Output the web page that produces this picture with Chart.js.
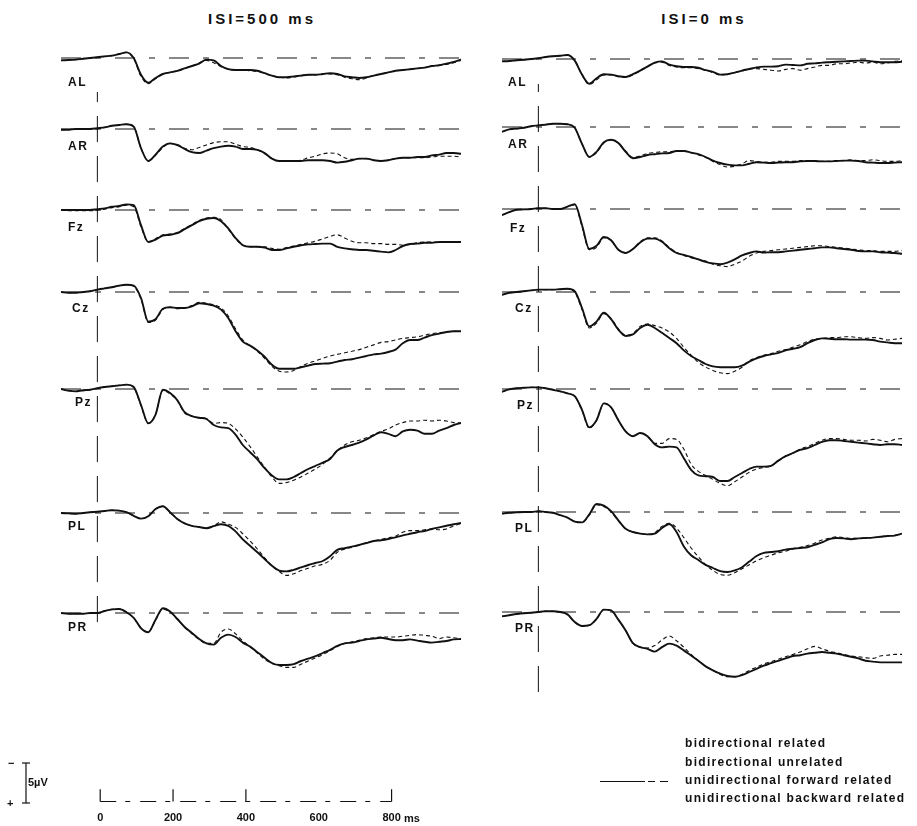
<!DOCTYPE html>
<html>
<head>
<meta charset="utf-8">
<script src="https://cdn.jsdelivr.net/npm/chart.js@4.4.0/dist/chart.umd.min.js"></script>
<style>
  body{margin:0;width:917px;height:826px;background:#fff;position:relative;overflow:hidden;
       font-family:"Liberation Sans",Arial,sans-serif;color:#111}
  canvas{position:absolute}
  .txt{position:absolute;white-space:nowrap;line-height:1}
  .title{font-weight:bold;font-size:15px;letter-spacing:3px;transform:translate(-50%,-50%)}
  .ch{font-weight:bold;font-size:12px;letter-spacing:1.5px;transform:translateY(-50%)}
  .leg{font-weight:bold;font-size:12px;letter-spacing:1.3px;transform:translateY(-50%)}
  .small{font-weight:bold;font-size:11px;transform:translateY(-50%)}
</style>
</head>
<body>
<script>
// time points (ms), shared by every trace
const times = [-100,-80,-60,-40,-20, 0,20,40,60,80, 100,120,140,160,180, 200,220,240,260,280,
  300,320,340,360,380, 400,420,440,460,480, 500,520,540,560,580, 600,620,640,660,680,
  700,720,740,760,780, 800,820,840,860,880, 900,920,940,960,980, 1000];
const timeTicks = [0,200,400,600,800];
const channels = ["AL","AR","Fz","Cz","Pz","PL","PR"];
const conditions = ["bidirectional related","bidirectional unrelated","unidirectional forward related","unidirectional backward related"];
const scaleBarUV = 5;

// ISI = 500 ms  (µV, negative up). bidir = solid, fwd = dashed
const isi500_AL_bidir = [0.3,0.25,0.2,0.1,0, -0.1,-0.2,-0.3,-0.5,-0.7, 0,2.1,3.1,2.5,2.0, 1.8,1.6,1.3,1.0,0.7,
  0.2,0.3,1.0,1.4,1.5, 1.5,1.5,1.6,1.9,2.2, 2.4,2.4,2.3,2.2,2.1, 2.1,2.0,1.9,2.0,2.3,
  2.4,2.5,2.4,2.2,2.0, 1.8,1.6,1.5,1.4,1.3, 1.2,1.0,0.9,0.7,0.5, 0.2];
const isi500_AL_fwd = [0.3,0.25,0.2,0.1,0, -0.1,-0.2,-0.3,-0.5,-0.7, 0.1,2.3,3.2,2.6,2.0, 1.8,1.6,1.3,1.0,0.6,
  0.3,0.6,1.1,1.4,1.5, 1.5,1.6,1.7,1.9,2.2, 2.4,2.5,2.4,2.2,2.1, 2.1,2.0,2.0,2.1,2.4,
  2.6,2.7,2.5,2.2,2.0, 1.8,1.6,1.5,1.4,1.3, 1.2,1.0,0.9,0.8,0.6, 0.3];

const isi500_AR_bidir = [0.1,0.1,0,0,0, -0.1,-0.2,-0.4,-0.5,-0.6, -0.3,2.4,4.0,3.2,2.2, 1.8,2.0,2.5,2.9,3.0,
  2.7,2.4,2.2,2.1,2.2, 2.5,2.5,2.6,3.0,3.7, 4.0,4.0,4.0,4.0,3.9, 3.9,3.9,4.0,4.2,4.1,
  3.9,3.7,3.7,3.9,4.0, 3.9,3.7,3.6,3.6,3.5, 3.5,3.3,3.2,3.0,3.0, 3.1];
const isi500_AR_fwd = [0.1,0.1,0,0,0, -0.1,-0.2,-0.4,-0.5,-0.6, -0.3,2.4,4.0,3.3,2.3, 1.8,2.0,2.4,2.6,2.3,
  2.0,1.7,1.6,1.6,1.9, 2.2,2.3,2.6,3.1,3.7, 4.0,4.0,4.0,3.9,3.6, 3.4,3.1,3.0,3.1,3.6,
  3.8,3.7,3.7,3.9,4.0, 3.9,3.7,3.6,3.6,3.6, 3.6,3.5,3.4,3.4,3.4, 3.5];

const isi500_Fz_bidir = [0,0,0,0,0, -0.1,-0.2,-0.4,-0.5,-0.7, -0.6,1.9,4.0,3.7,3.2, 3.1,2.9,2.4,1.9,1.4,
  1.1,1.0,1.4,2.3,3.5, 4.4,4.6,4.6,4.7,5.0, 5.0,4.8,4.6,4.4,4.3, 4.25,4.2,4.2,4.6,4.8,
  4.9,5.0,5.0,5.1,5.2, 5.3,5.0,4.5,4.25,4.2, 4.1,4.1,4.0,4.0,4.0, 4.0];
const isi500_Fz_fwd = [0,0.1,0.1,0.1,0.1, 0,-0.1,-0.3,-0.4,-0.6, -0.4,2.1,4.0,3.6,3.1, 3.0,2.8,2.3,1.8,1.3,
  1.0,0.9,1.2,2.4,3.6, 4.4,4.6,4.6,4.6,4.8, 4.9,4.7,4.5,4.3,4.1, 3.9,3.6,3.3,3.1,3.5,
  3.9,4.1,4.1,4.2,4.2, 4.3,4.3,4.4,4.3,4.1, 4.0,4.0,4.0,4.0,4.0, 4.0];

const isi500_Cz_bidir = [0,0.1,0.1,0,-0.1, -0.3,-0.45,-0.6,-0.8,-0.9, -0.8,0.75,3.7,3.4,2.1, 1.9,2.0,2.0,1.8,1.4,
  1.5,1.7,2.2,3.25,4.9, 6.2,6.7,7.3,8.1,9.1, 9.6,9.6,9.6,9.4,9.2, 9.0,8.95,8.9,8.7,8.5,
  8.4,8.2,8.0,7.8,7.7, 7.5,7.2,6.4,6.0,6.0, 5.7,5.4,5.2,5.0,4.9, 4.9];
const isi500_Cz_fwd = [0,0.1,0.1,0,-0.1, -0.3,-0.45,-0.6,-0.8,-0.9, -0.7,0.9,3.8,3.5,2.2, 1.9,2.1,2.0,1.7,1.3,
  1.4,1.6,2.0,3.0,4.6, 6.0,6.7,7.4,8.3,9.3, 9.9,10.0,9.8,9.3,8.9, 8.6,8.3,8.0,7.8,7.6,
  7.4,7.2,6.9,6.6,6.3, 6.2,6.0,5.8,5.7,5.6, 5.4,5.2,5.1,5.0,4.9, 4.9];

const isi500_Pz_bidir = [0,0.2,0.3,0.15,0.1, -0.1,-0.25,-0.35,-0.45,-0.55, -0.25,2.0,4.3,3.2,0.1, 0.5,1.4,2.9,3.4,3.6,
  3.75,4.5,4.8,4.9,5.7, 7.0,7.9,8.8,9.9,10.8, 11.3,11.3,11.0,10.5,10.0, 9.6,9.2,8.75,7.7,7.25,
  7.0,6.7,6.3,5.8,5.4, 5.6,5.9,5.3,5.1,5.2, 5.6,5.6,5.2,4.9,4.5, 4.25];
const isi500_Pz_fwd = [0,0.2,0.3,0.2,0.1, -0.1,-0.25,-0.35,-0.45,-0.55, -0.2,2.1,4.3,3.2,0.2, 0.6,1.5,3.0,3.4,3.6,
  3.7,4.3,4.2,4.3,5.0, 6.0,7.2,8.5,9.8,11.0, 11.8,11.7,11.4,11.0,10.5, 10.0,9.4,8.6,7.7,7.0,
  6.6,6.4,6.1,5.7,5.3, 5.0,4.5,4.2,4.0,4.0, 3.9,4.0,3.9,4.0,4.2, 4.25];

const isi500_PL_bidir = [0,0.05,0.1,0,-0.1, -0.15,-0.25,-0.35,-0.3,-0.1, 0.35,0.7,0.4,-0.5,-0.85, -0.1,0.75,1.3,1.6,1.75,
  1.9,1.65,1.4,1.6,2.3, 3.3,4.1,4.9,5.75,6.6, 7.2,7.3,7.1,6.8,6.5, 6.25,6.0,5.4,4.6,4.4,
  4.2,4.0,3.75,3.5,3.4, 3.25,3.05,2.8,2.6,2.4, 2.25,2.0,1.8,1.6,1.4, 1.25];
const isi500_PL_fwd = [0,0.05,0.1,0,-0.1, -0.15,-0.25,-0.35,-0.3,-0.1, 0.35,0.7,0.4,-0.5,-0.85, -0.1,0.75,1.3,1.6,1.75,
  1.9,1.6,1.1,1.4,1.8, 2.6,3.5,4.5,5.6,6.6, 7.3,7.8,7.6,7.2,6.9, 6.6,6.4,5.9,4.9,4.5,
  4.3,4.0,3.7,3.5,3.3, 3.1,2.9,2.4,2.2,2.2, 2.1,2.0,2.1,2.0,1.6, 1.3];

const isi500_PR_bidir = [0,0.1,0.1,0.1,0, 0,-0.25,-0.45,-0.5,-0.1, 0.6,1.9,2.4,0.85,-0.6, -0.2,0.75,1.75,2.5,3.25,
  3.8,3.95,3.1,2.7,3.0, 3.7,4.2,4.9,5.6,6.25, 6.5,6.5,6.4,6.0,5.7, 5.4,5.0,4.6,4.1,3.8,
  3.7,3.5,3.3,3.2,3.1, 3.25,3.4,3.4,3.3,3.45, 3.6,3.7,3.6,3.5,3.3, 3.25];
const isi500_PR_fwd = [0,0.1,0.1,0.1,0, 0,-0.25,-0.45,-0.5,-0.1, 0.6,1.9,2.4,0.9,-0.5, -0.1,0.8,1.8,2.6,3.3,
  3.8,3.8,2.4,2.0,2.6, 3.5,4.2,5.0,5.8,6.3, 6.6,6.8,6.8,6.4,6.0, 5.6,5.2,4.7,4.2,3.8,
  3.6,3.4,3.2,3.1,3.0, 3.0,3.0,2.9,2.8,2.7, 2.8,2.9,3.2,3.0,3.1, 3.2];

// ISI = 0 ms
const isi0_AL_bidir = [0.3,0.25,0.15,0.1,0, -0.1,-0.25,-0.35,-0.4,-0.5, 0.2,1.95,3.1,2.4,1.9, 1.95,2.15,2.25,1.9,1.45,
  0.95,0.45,0.3,0.7,0.9, 1.0,1.0,1.1,1.4,1.6, 1.95,1.9,1.7,1.45,1.25, 1.05,0.95,0.95,0.9,0.7,
  0.75,0.8,0.6,0.55,0.45, 0.4,0.35,0.3,0.25,0.2, 0.2,0.3,0.4,0.4,0.4, 0.35];
const isi0_AL_fwd = [0.3,0.25,0.15,0.1,0, -0.1,-0.25,-0.35,-0.4,-0.5, 0.2,2.0,3.2,2.6,2.0, 2.0,2.2,2.3,2.0,1.5,
  1.0,0.5,0.4,0.8,1.0, 1.1,1.1,1.2,1.4,1.7, 2.0,1.9,1.7,1.5,1.3, 1.2,1.3,1.4,1.5,1.3,
  1.2,1.4,1.2,1.0,0.8, 0.8,0.6,0.6,0.5,0.4, 0.5,0.4,0.6,0.5,0.3, 0.2];

const isi0_AR_bidir = [0.6,0.3,0.2,0.1,-0.1, -0.2,-0.3,-0.4,-0.4,-0.35, 0.1,2.1,3.75,3.1,1.9, 1.6,2.0,3.1,3.9,3.75,
  3.5,3.4,3.3,3.25,3.0, 3.0,3.2,3.4,3.75,4.2, 4.5,4.7,4.8,4.8,4.6, 4.4,4.45,4.5,4.45,4.4,
  4.4,4.3,4.25,4.25,4.3, 4.3,4.25,4.2,4.2,4.25, 4.4,4.45,4.5,4.5,4.45, 4.4];
const isi0_AR_fwd = [0.6,0.3,0.2,0.1,-0.1, -0.2,-0.3,-0.4,-0.4,-0.35, 0.1,2.1,3.75,3.2,2.0, 1.6,2.0,3.0,3.8,3.6,
  3.3,3.2,3.1,3.1,3.0, 3.0,3.2,3.5,3.8,4.3, 4.7,5.0,4.9,4.6,4.2, 4.3,4.4,4.4,4.3,4.3,
  4.3,4.2,4.2,4.2,4.3, 4.3,4.2,4.2,4.1,4.2, 4.2,4.1,4.2,4.3,4.3, 4.2];

const isi0_Fz_bidir = [0.75,0.4,0.1,0.05,0, -0.1,-0.1,0,0,-0.3, -0.6,2.0,5.0,4.6,3.5, 3.9,5.1,5.5,5.0,4.2,
  3.7,3.7,4.1,4.9,5.5, 5.75,6.0,6.3,6.6,6.8, 6.9,6.7,6.3,5.8,5.5, 5.3,5.45,5.4,5.4,5.3,
  5.2,5.1,5.0,4.9,4.8, 4.8,4.9,5.0,5.1,5.25, 5.3,5.3,5.4,5.45,5.5, 5.6];
const isi0_Fz_fwd = [0.75,0.4,0.1,0.05,0, -0.1,-0.1,0,0,-0.3, -0.5,2.2,5.1,4.8,3.6, 3.9,5.1,5.5,5.0,4.1,
  3.6,3.6,4.0,4.8,5.4, 5.8,6.1,6.3,6.5,6.9, 7.1,7.2,6.9,6.5,5.9, 5.5,5.3,5.2,5.1,5.0,
  4.9,4.8,4.7,4.6,4.6, 4.7,4.8,4.9,5.0,5.1, 5.2,5.2,5.3,5.3,5.3, 5.2];

const isi0_Cz_bidir = [0.35,0.1,0,-0.1,-0.2, -0.3,-0.3,-0.3,-0.35,-0.4, -0.1,2.0,4.3,3.7,2.6, 3.4,4.7,5.5,5.3,4.5,
  4.1,4.5,5.1,5.75,6.4, 7.3,8.0,8.5,9.0,9.3, 9.4,9.4,9.4,9.2,8.7, 8.3,8.0,7.8,7.6,7.3,
  7.1,6.9,6.4,6.0,5.8, 5.85,5.9,5.9,5.95,5.95, 5.95,6.0,6.2,6.3,6.4, 6.4];
const isi0_Cz_fwd = [0.35,0.1,0,-0.1,-0.2, -0.3,-0.3,-0.3,-0.35,-0.4, 0,2.2,4.5,3.9,2.7, 3.3,4.6,5.4,5.2,4.3,
  4.0,4.2,4.5,5.0,5.8, 6.9,7.9,8.8,9.4,9.8, 10.1,10.2,9.9,9.4,8.6, 8.2,7.9,7.7,7.4,7.2,
  6.9,6.6,6.2,5.9,5.8, 5.7,5.7,5.6,5.6,5.7, 5.8,5.7,5.8,6.0,5.9, 5.8];

const isi0_Pz_bidir = [0.35,0.05,-0.1,-0.15,-0.2, -0.2,-0.1,0.1,0.3,0.55, 0.9,2.6,4.8,3.9,1.8, 2.3,3.9,5.3,5.9,5.5,
  5.9,6.9,7.3,7.2,7.3, 8.65,10.1,10.8,10.9,11.0, 11.5,11.5,11.0,10.5,10.0, 9.7,9.7,9.6,8.95,8.4,
  8.0,7.6,7.4,7.0,6.6, 6.4,6.4,6.5,6.6,6.7, 6.8,6.9,7.0,6.9,6.9, 7.0];
const isi0_Pz_fwd = [0.35,0.05,-0.1,-0.15,-0.2, -0.2,-0.1,0.1,0.3,0.55, 0.9,2.7,4.9,3.9,1.8, 2.3,3.9,5.3,5.9,5.5,
  5.9,6.8,6.8,6.2,6.3, 7.5,9.4,10.3,10.8,11.3, 11.8,12.1,11.6,11.0,10.4, 10.0,9.8,9.6,9.0,8.4,
  8.0,7.5,7.2,6.8,6.4, 6.2,6.2,6.3,6.4,6.4, 6.5,6.3,6.4,6.6,6.3, 6.2];

const isi0_PL_bidir = [0.2,0.1,0.05,0,0, -0.1,0,0.1,0.4,0.7, 1.2,1.3,0.3,-1.0,-0.8, -0.1,1.05,2.1,2.5,2.7,
  2.8,2.7,2.0,1.5,2.5, 4.3,5.4,6.0,6.6,7.0, 7.4,7.5,7.3,6.9,6.2, 5.5,5.1,5.0,4.9,4.7,
  4.6,4.5,4.4,4.1,3.8, 3.4,3.25,3.3,3.4,3.3, 3.25,3.2,3.1,3.0,2.95, 2.7];
const isi0_PL_fwd = [0.2,0.1,0.05,0,0, -0.1,0,0.1,0.4,0.7, 1.2,1.3,0.4,-0.9,-0.7, 0,1.1,2.1,2.5,2.7,
  2.8,2.6,1.8,1.4,2.0, 3.2,4.5,5.6,6.6,7.3, 7.8,7.9,7.6,7.1,6.6, 6.1,5.7,5.4,5.1,4.9,
  4.6,4.4,4.2,3.9,3.5, 3.3,3.1,3.2,3.3,3.3, 3.2,3.2,3.1,3.0,2.9, 2.7];

const isi0_PR_bidir = [0.55,0.4,0.25,0.15,0.1, 0,-0.1,-0.1,0,0.3, 1.25,1.75,1.65,0.85,-0.3, -0.2,0.95,2.3,3.9,4.4,
  4.6,4.95,4.4,3.95,4.2, 4.8,5.45,6.1,6.8,7.3, 7.7,8.0,8.1,7.9,7.5, 7.1,6.7,6.4,6.1,5.8,
  5.5,5.4,5.2,5.1,5.0, 5.1,5.2,5.4,5.6,5.8, 6.1,6.2,6.3,6.3,6.3, 6.3];
const isi0_PR_fwd = [0.55,0.4,0.25,0.15,0.1, 0,-0.1,-0.1,0,0.3, 1.3,1.8,1.7,0.9,-0.3, -0.2,1.0,2.3,3.9,4.4,
  4.5,4.2,3.5,3.0,3.6, 4.4,5.3,6.1,6.8,7.3, 7.8,8.1,8.1,7.8,7.3, 6.9,6.5,6.2,5.9,5.6,
  5.3,5.0,4.6,4.3,4.6, 4.9,5.1,5.3,5.5,5.6, 5.7,5.8,5.5,5.4,5.3, 5.3];

const isi500Solid = [isi500_AL_bidir,isi500_AR_bidir,isi500_Fz_bidir,isi500_Cz_bidir,isi500_Pz_bidir,isi500_PL_bidir,isi500_PR_bidir];
const isi500Dash  = [isi500_AL_fwd,isi500_AR_fwd,isi500_Fz_fwd,isi500_Cz_fwd,isi500_Pz_fwd,isi500_PL_fwd,isi500_PR_fwd];
const isi0Solid = [isi0_AL_bidir,isi0_AR_bidir,isi0_Fz_bidir,isi0_Cz_bidir,isi0_Pz_bidir,isi0_PL_bidir,isi0_PR_bidir];
const isi0Dash  = [isi0_AL_fwd,isi0_AR_fwd,isi0_Fz_fwd,isi0_Cz_fwd,isi0_Pz_fwd,isi0_PL_fwd,isi0_PR_fwd];

// ---- layout (pixels) ----
const INK = "#111";
const columns = [
  {title:"ISI=500 ms", titleX:262, left:61, bases:[58,129,210,292,389,513,613],
   labelX:[68,68,68,72,75,68,68], labelY:[82,146,227,308,402,526,627], onset:[92,622],
   solid:isi500Solid, dash:isi500Dash},
  {title:"ISI=0 ms", titleX:704, left:502, bases:[59,127,209,292,389,512,612],
   labelX:[508,508,510,515,517,515,515], labelY:[82,144,228,308,405,528,628], onset:[84,692],
   solid:isi0Solid, dash:isi0Dash}
];
const PANEL_W = 400, PANEL_H = 200, ABOVE = 40; // 8 px per µV

function addText(txt, x, y, cls){
  const d = document.createElement("div");
  d.className = "txt " + cls;
  d.textContent = txt;
  d.style.left = x + "px"; d.style.top = y + "px";
  document.body.appendChild(d);
}

function addCanvas(left, top, w, h){
  const c = document.createElement("canvas");
  c.width = w; c.height = h;
  c.style.left = left + "px"; c.style.top = top + "px";
  document.body.appendChild(c);
  return c;
}

function baseOptions(xMin, xMax, yMin, yMax, reverse){
  return {
    responsive:false, animation:false, events:[],
    layout:{padding:0},
    plugins:{legend:{display:false}, tooltip:{enabled:false}},
    elements:{point:{radius:0}},
    scales:{
      x:{type:"linear", min:xMin, max:xMax, display:false},
      y:{type:"linear", min:yMin, max:yMax, reverse:!!reverse, display:false}
    }
  };
}

const toPts = vals => times.map((t,i) => ({x:t, y:vals[i]}));

function drawPanel(left, base, solid, dashed){
  const c = addCanvas(left, base - ABOVE, PANEL_W, PANEL_H);
  new Chart(c, {
    type:"line",
    data:{datasets:[
      {label:"baseline", data:[{x:-100,y:0},{x:1000,y:0}], borderColor:INK, borderWidth:1, borderDash:[20,14,6,14]},
      {label:conditions[2], data:toPts(dashed), borderColor:INK, borderWidth:1.1, borderDash:[4,3], cubicInterpolationMode:"monotone"},
      {label:conditions[0], data:toPts(solid), borderColor:INK, borderWidth:1.9, cubicInterpolationMode:"monotone"}
    ]},
    options: baseOptions(-100, 1000, -ABOVE/8, (PANEL_H-ABOVE)/8, true)
  });
}

columns.forEach(col => {
  addText(col.title, col.titleX, 18, "title");
  // stimulus onset line (t = 0)
  const oc = addCanvas(col.left, col.onset[0], PANEL_W, col.onset[1]-col.onset[0]);
  new Chart(oc, {
    type:"line",
    data:{datasets:[{data:[{x:0,y:0},{x:0,y:1}], borderColor:INK, borderWidth:1, borderDash:[26,14], clip:false}]},
    options: baseOptions(-100, 1000, 0, 1, false)
  });
  channels.forEach((ch, i) => {
    drawPanel(col.left, col.bases[i], col.solid[i], col.dash[i]);
    addText(ch, col.labelX[i], col.labelY[i], "ch");
  });
});

// time axis: axis line + upward tick marks as datasets, labels from the x scale
const TICK_UP = 0.5; // fraction of the chart area height (~7 px)
const axisSets = [{data:[{x:0,y:0},{x:800,y:0}], borderColor:INK, borderWidth:1.2, borderDash:[16,9,5,10], clip:false}];
timeTicks.filter(v => v !== 600).forEach(v => {
  axisSets.push({data:[{x:v,y:0},{x:v,y:TICK_UP}], borderColor:INK, borderWidth:1.2, clip:false});
});
const ac = addCanvas(82, 777, 346, 49);
new Chart(ac, {
  type:"line",
  data:{datasets:axisSets},
  options:{
    responsive:false, animation:false, events:[],
    layout:{padding:0},
    plugins:{legend:{display:false}, tooltip:{enabled:false}},
    elements:{point:{radius:0}},
    scales:{
      x:{type:"linear", min:-50, max:900,
         afterBuildTicks: axis => { axis.ticks = timeTicks.map(v => ({value:v})); },
         border:{display:false},
         grid:{display:false, drawTicks:false},
         ticks:{color:INK, padding:10, maxRotation:0, autoSkip:false,
                font:{family:"Liberation Sans", weight:"bold", size:11}}},
      y:{min:0, max:1, display:false}
    }
  }
});
addText("ms", 404, 818, "small");

// 5 µV scale bar
const sc = addCanvas(22, 760, 8, 46);
new Chart(sc, {
  type:"line",
  data:{datasets:[
    {data:[{x:0,y:0},{x:0,y:scaleBarUV}], borderColor:INK, borderWidth:1.2, clip:false},
    {data:[{x:-1,y:scaleBarUV},{x:1,y:scaleBarUV}], borderColor:INK, borderWidth:1.2, clip:false},
    {data:[{x:-1,y:0},{x:1,y:0}], borderColor:INK, borderWidth:1.2, clip:false}
  ]},
  options:Object.assign(baseOptions(-1, 1, 0, scaleBarUV, false), {layout:{padding:{top:3,bottom:3}}})
});
addText("\u2212", 8, 763, "small");
addText("+", 7, 803, "small");
addText(scaleBarUV + "\u00b5V", 28, 782, "small");

// legend
const legendY = [743, 762, 780, 798];
conditions.forEach((t, i) => addText(t, 685, legendY[i], "leg"));
[[600,45,1.5],[648,7,1.2],[660,8,1.2]].forEach(s => {
  const d = document.createElement("div");
  d.style.cssText = "position:absolute;left:"+s[0]+"px;top:781px;width:"+s[1]+"px;border-top:"+s[2]+"px solid "+INK;
  document.body.appendChild(d);
});
</script>
</body>
</html>
